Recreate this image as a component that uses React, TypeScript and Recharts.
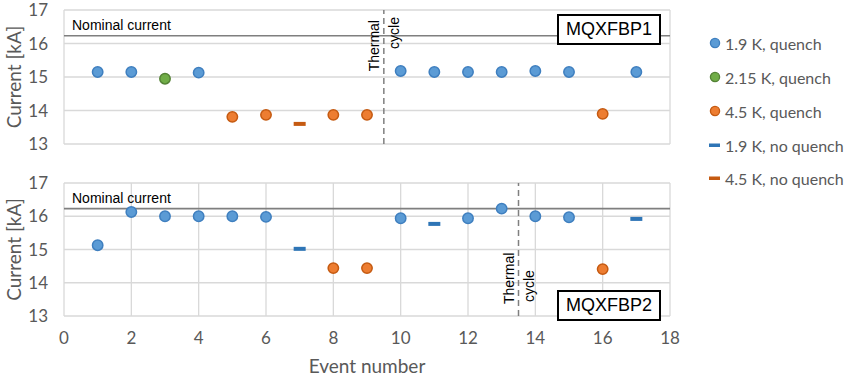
import {
  ScatterChart,
  Scatter,
  XAxis,
  YAxis,
  CartesianGrid,
  ReferenceLine,
} from "recharts"

// event numbers / currents in kA
const p1Quench19 = [
  { x: 1, y: 15.15 }, { x: 2, y: 15.15 }, { x: 4, y: 15.13 }, { x: 10, y: 15.18 },
  { x: 11, y: 15.15 }, { x: 12, y: 15.15 }, { x: 13, y: 15.15 }, { x: 14, y: 15.18 },
  { x: 15, y: 15.15 }, { x: 17, y: 15.15 },
]
const p1Quench215 = [{ x: 3, y: 14.95 }]
const p1Quench45 = [
  { x: 5, y: 13.81 }, { x: 6, y: 13.87 }, { x: 8, y: 13.87 }, { x: 9, y: 13.87 }, { x: 16, y: 13.9 },
]
const p1NoQuench19: { x: number; y: number }[] = []
const p1NoQuench45 = [{ x: 7, y: 13.6 }]

const p2Quench19 = [
  { x: 1, y: 15.13 }, { x: 2, y: 16.13 }, { x: 3, y: 16.0 }, { x: 4, y: 16.0 },
  { x: 5, y: 16.0 }, { x: 6, y: 15.98 }, { x: 10, y: 15.94 }, { x: 12, y: 15.94 },
  { x: 13, y: 16.23 }, { x: 14, y: 16.0 }, { x: 15, y: 15.97 },
]
const p2Quench215: { x: number; y: number }[] = []
const p2Quench45 = [{ x: 8, y: 14.44 }, { x: 9, y: 14.44 }, { x: 16, y: 14.41 }]
const p2NoQuench19 = [{ x: 7, y: 15.02 }, { x: 11, y: 15.77 }, { x: 17, y: 15.92 }]
const p2NoQuench45: { x: number; y: number }[] = []

const xTicks = [0, 2, 4, 6, 8, 10, 12, 14, 16, 18]
const yTicks = [13, 14, 15, 16, 17]
const nominalCurrent = 16.23
const thermalCycle1 = 9.5
const thermalCycle2 = 13.5

const series = [
  { name: "1.9 K, quench", kind: "dot", fill: "#5b9bd5", stroke: "#3f7fbf" },
  { name: "2.15 K, quench", kind: "dot", fill: "#70ad47", stroke: "#548235" },
  { name: "4.5 K, quench", kind: "dot", fill: "#ed7d31", stroke: "#c55a11" },
  { name: "1.9 K, no quench", kind: "dash", fill: "#2e75b6", stroke: "#2e75b6" },
  { name: "4.5 K, no quench", kind: "dash", fill: "#c55a11", stroke: "#c55a11" },
]

const tickFont = { fill: "#595959", fontSize: 17, fontFamily: "Lato" }
const gray = "#7f7f7f"

const dotShape = (fill: string, stroke: string) => (props: any) => (
  <circle cx={props.cx} cy={props.cy} r={5.2} fill={fill} stroke={stroke} strokeWidth={1.5} />
)
const dashShape = (fill: string) => (props: any) => (
  <rect x={props.cx - 6} y={props.cy - 2} width={12} height={4} fill={fill} />
)

function Panel({ data, tcX, tcPos, name, boxTop, top, height, margin, showX }: any) {
  return (
    <div style={{ position: "absolute", left: 0, top }}>
      <ScatterChart width={850} height={height} margin={margin}>
        <CartesianGrid stroke="#d9d9d9" strokeWidth={1.3} />
        <XAxis
          type="number"
          dataKey="x"
          domain={[0, 18]}
          ticks={xTicks}
          tick={showX ? tickFont : false}
          axisLine={false}
          tickLine={false}
          tickSize={8}
          tickMargin={8}
          height={showX ? 57 : 1}
          label={showX ? { value: "Event number", position: "insideBottom", offset: 0, style: { fill: "#595959", fontSize: 19, fontFamily: "Lato" } } : undefined}
        />
        <YAxis
          type="number"
          dataKey="y"
          domain={[13, 17]}
          ticks={yTicks}
          tick={tickFont}
          axisLine={false}
          tickLine={false}
          tickSize={8}
          tickMargin={8}
          width={64}
          label={{ value: "Current [kA]", angle: -90, position: "insideLeft", offset: 14, style: { textAnchor: "middle", fill: "#595959", fontSize: 19, fontFamily: "Lato" } }}
        />
        <ReferenceLine
          y={nominalCurrent}
          stroke={gray}
          strokeWidth={1.6}
          label={(p: any) => (
            <text x={p.viewBox.x + 8} y={p.viewBox.y - 6} fontSize={14} fontFamily="Liberation Sans" fill="#000">
              Nominal current
            </text>
          )}
        />
        <ReferenceLine
          x={tcX}
          stroke={gray}
          strokeWidth={1.5}
          strokeDasharray="6 4"
          label={(p: any) => {
            const x = p.viewBox.x
            const isTop = tcPos === "top"
            const y1 = isTop ? p.viewBox.y + 10 : p.viewBox.y + p.viewBox.height - 12
            const y2 = isTop ? p.viewBox.y + 7 : p.viewBox.y + p.viewBox.height - 14
            const anchor = isTop ? "end" : "start"
            return (
              <g fontSize={14} fontFamily="Liberation Sans" fill="#000">
                <text transform={`translate(${x - 5},${y1}) rotate(-90)`} textAnchor={anchor}>Thermal</text>
                <text transform={`translate(${x + 15},${y2}) rotate(-90)`} textAnchor={anchor}>cycle</text>
              </g>
            )
          }}
        />
        {data.map((d: any[], i: number) => {
          const s = series[i]
          return (
            <Scatter
              key={s.name}
              name={s.name}
              data={d}
              isAnimationActive={false}
              shape={s.kind === "dot" ? dotShape(s.fill, s.stroke) : dashShape(s.fill)}
            />
          )
        })}
      </ScatterChart>
      <div
        style={{
          position: "absolute",
          left: 557,
          top: boxTop,
          width: 100,
          height: 27,
          border: "2px solid #000",
          background: "#fff",
          fontFamily: "Liberation Sans",
          fontSize: 18,
          lineHeight: "27px",
          textAlign: "center",
        }}
      >
        {name}
      </div>
    </div>
  )
}

function LegendBox() {
  const rows = [43, 77, 111, 145, 178]
  return (
    <div style={{ position: "absolute", left: 708, top: 0 }}>
      {series.map((s, i) => (
        <div
          key={s.name}
          style={{
            position: "absolute",
            top: rows[i] - 11,
            left: 0,
            height: 22,
            display: "flex",
            alignItems: "center",
            whiteSpace: "nowrap",
            fontFamily: "Lato",
            fontSize: 16,
            color: "#595959",
          }}
        >
          <svg width={14} height={14} style={{ marginRight: 3 }}>
            {s.kind === "dot" ? (
              <circle cx={7} cy={7} r={4.6} fill={s.fill} stroke={s.stroke} strokeWidth={1.3} />
            ) : (
              <rect x={1} y={5.5} width={11} height={3.5} fill={s.fill} />
            )}
          </svg>
          {s.name}
        </div>
      ))}
    </div>
  )
}

export default function App() {
  return (
    <div style={{ position: "absolute", left: 0, top: 0, width: 850, height: 378, background: "#fff" }}>
      <Panel
        data={[p1Quench19, p1Quench215, p1Quench45, p1NoQuench19, p1NoQuench45]}
        tcX={thermalCycle1}
        tcPos="top"
        name="MQXFBP1"
        boxTop={14}
        top={0}
        height={160}
        margin={{ top: 10, right: 180, bottom: 15, left: 0 }}
        showX={false}
      />
      <Panel
        data={[p2Quench19, p2Quench215, p2Quench45, p2NoQuench19, p2NoQuench45]}
        tcX={thermalCycle2}
        tcPos="bottom"
        name="MQXFBP2"
        boxTop={130}
        top={160}
        height={218}
        margin={{ top: 23, right: 180, bottom: 5, left: 0 }}
        showX={true}
      />
      <LegendBox />
    </div>
  )
}
